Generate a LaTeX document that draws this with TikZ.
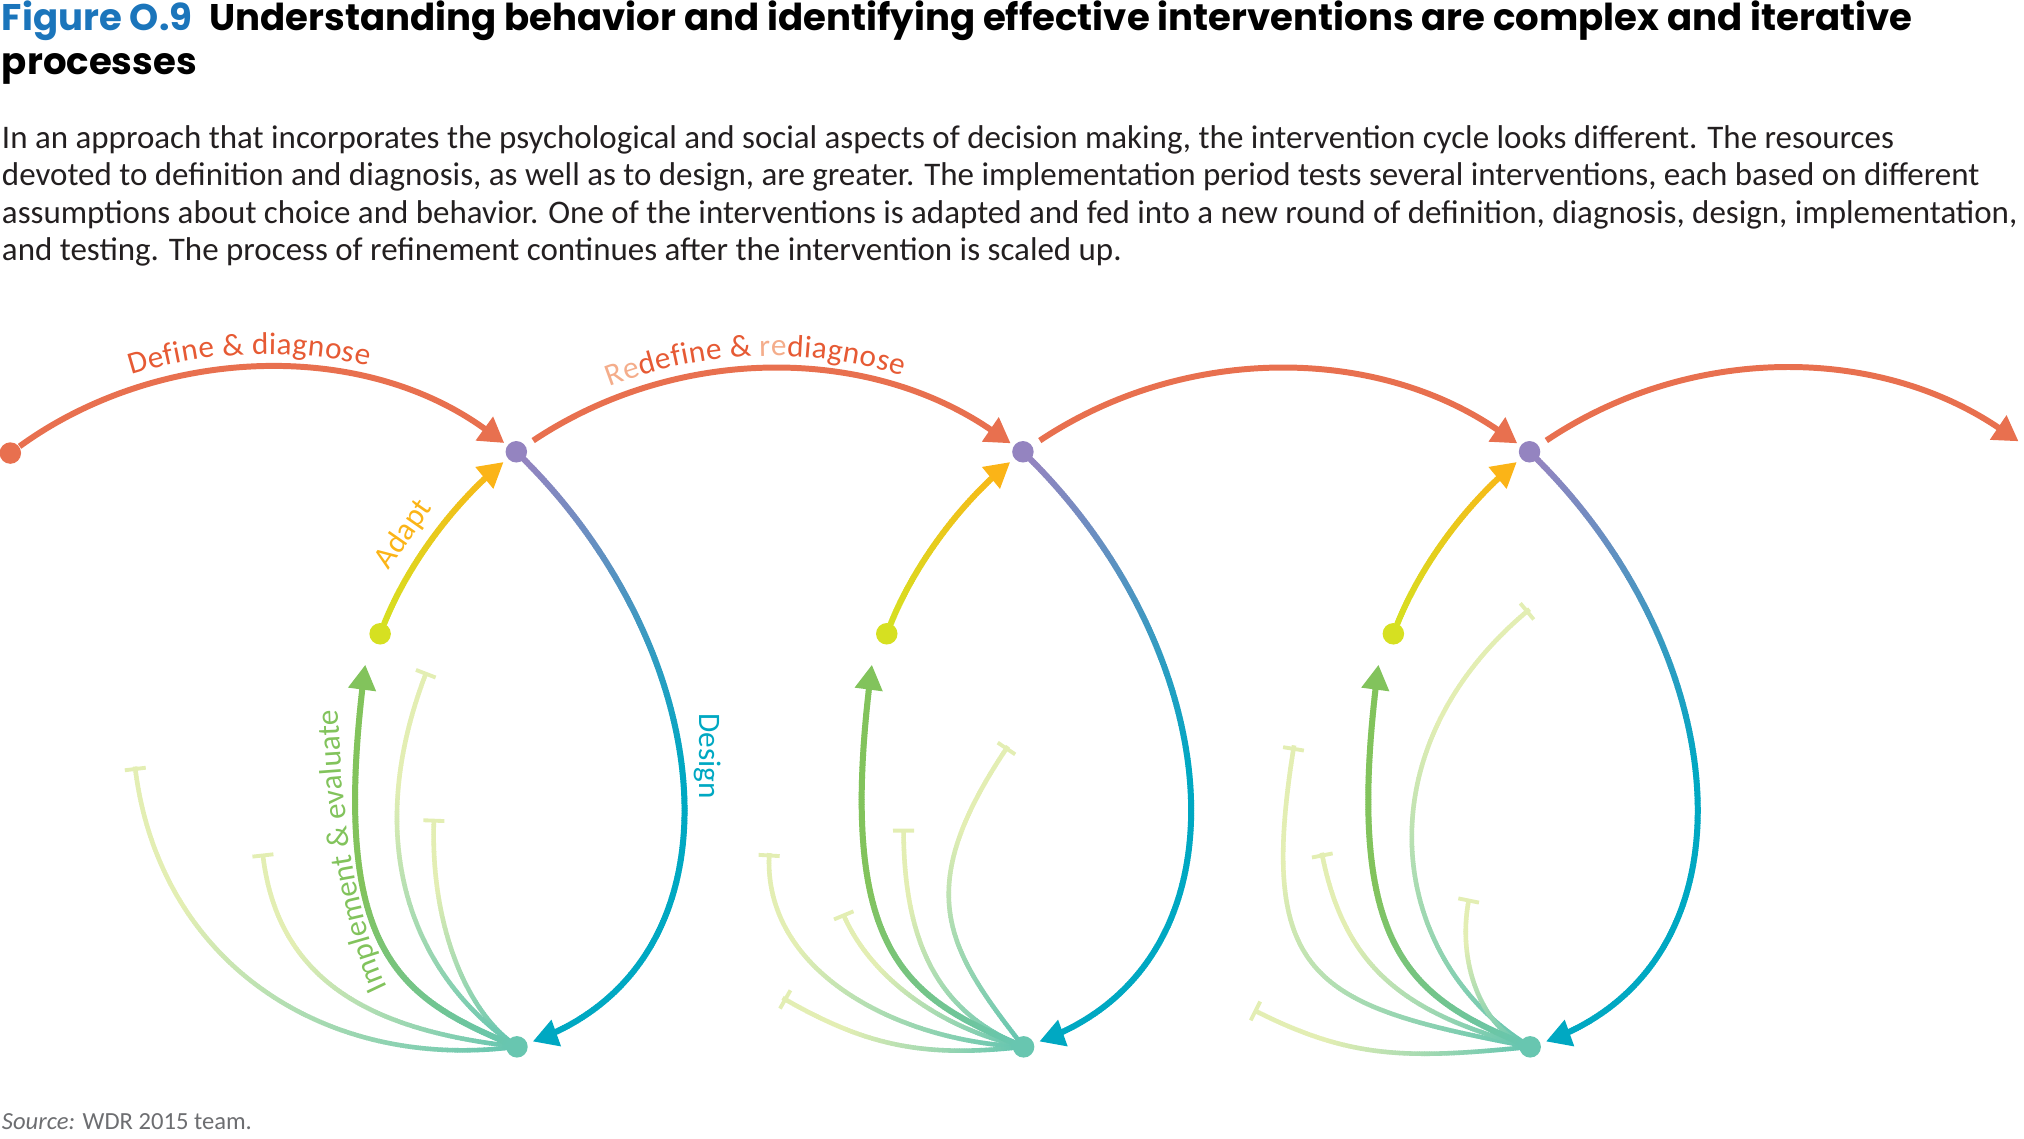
\documentclass[tikz,border=0pt]{standalone}
\usepackage{fontspec}
\setmainfont{Carlito}
\newfontfamily\titlefont{Poppins}
\usepackage{xcolor}
\usetikzlibrary{arrows.meta}
\usetikzlibrary{decorations.markings}
\usetikzlibrary{decorations.text}

\definecolor{redarcc}{HTML}{E8704F}
\definecolor{redtxt}{HTML}{E65A34}
\definecolor{relight}{HTML}{F4AD8B}
\definecolor{purp}{HTML}{9484C0}
\definecolor{cyanc}{HTML}{00A8C2}
\definecolor{tealc}{HTML}{68C6B0}
\definecolor{greenc}{HTML}{82C35C}
\definecolor{palec}{HTML}{E3EEB3}
\definecolor{yelc}{HTML}{D6E021}
\definecolor{orc}{HTML}{FBB417}
\definecolor{figblue}{HTML}{1B75BB}
\definecolor{srcgray}{HTML}{6D6E71}
\definecolor{bodytxt}{HTML}{231F20}

\newcommand\lblfont{\fontsize{8.9}{11}\selectfont}

\tikzset{
  dot/.style={circle, inner sep=0pt, minimum size=0.215cm},
  arcline/.style={draw=redarcc, line width=1.7pt, -{Triangle[length=7pt,width=8pt]}, shorten >=1pt},
  lbl/.style={font=\lblfont, inner sep=0pt},
  grad/.style n args={5}{postaction={decorate, decoration={markings,
      mark=between positions 0 and #5 step 0.7pt with {
        \pgfmathsetmacro\gradpc{min(100,#4*(\pgfkeysvalueof{/pgf/decoration/mark info/distance from start}/\pgfdecoratedpathlength))}
        \fill[#2!\gradpc!#1] (-0.45pt,-#3) rectangle (0.45pt,#3);}}}},
  tipat/.style n args={2}{postaction={decorate, decoration={markings,
      mark=at position #1 with {\arrow{Triangle[length=7pt,width=8pt,color=#2]}}}}},
  barat/.style={postaction={decorate, decoration={markings,
      mark=at position -0.1pt with {\arrow{Bar[width=6pt,line width=1.1pt,color=palec]}}}}}
}

\begin{document}
\begin{tikzpicture}[x=0.012908cm, y=-0.012908cm]
\useasboundingbox (0,0) rectangle (1568,882);

% heading
{
\node[anchor=base west, inner sep=0pt, align=left, font=\titlefont\bfseries\fontsize{10.55}{12.8}\selectfont] (title) at (1,58.1)
{\textcolor{figblue}{Figure O.9}\hspace{0.25em} Understanding behavior and identifying effective interventions are complex and iterative\\processes};

\node[anchor=base west, inner sep=0pt, align=left, text=bodytxt, font=\fontsize{9.38}{10.55}\selectfont] (body) at (1,201.5)
{In an approach that incorporates the psychological and social aspects of decision making, the intervention cycle looks different. The resources\\
devoted to definition and diagnosis, as well as to design, are greater. The implementation period tests several interventions, each based on different\\
assumptions about choice and behavior. One of the interventions is adapted and fed into a new round of definition, diagnosis, design, implementation,\\
and testing. The process of refinement continues after the intervention is scaled up.};
}

% first round
\begin{scope}[xshift=0cm]
{
\node[dot, fill=purp] (p1) at (400,350) {};
\node[dot, fill=yelc] (y1) at (294.5,491) {};
\node[dot, fill=tealc] (t1) at (400.5,811) {};

\coordinate (g1) at (283,515);
\coordinate (a1) at (104.6,594);
\coordinate (a2) at (203.5,661);
\coordinate (a3) at (336.2,634);
\coordinate (a4) at (330.5,520.3);

% trials
{
\path[grad={tealc}{palec}{0.65pt}{140}{-0.1pt}, barat] (t1) .. controls (248,827) and (122.6,744) .. (a1);
\path[grad={tealc}{palec}{0.65pt}{140}{-0.1pt}, barat] (t1) .. controls (289,797) and (214.5,761) .. (a2);
\path[grad={tealc}{palec}{0.65pt}{140}{-0.1pt}, barat] (t1) .. controls (360,778.5) and (333,714) .. (a3);
\path[grad={tealc}{palec}{0.65pt}{140}{-0.1pt}, barat] (t1) .. controls (326,757) and (276.5,659.8) .. (a4);
}

% cycle
{
\path[grad={tealc}{greenc}{0.85pt}{200}{-4pt}, tipat={-0.1pt}{greenc}] (t1) .. controls (306,771) and (254.4,732.8) .. (g1);
\path[grad={purp}{cyanc}{0.85pt}{200}{-6pt}, tipat={-1.6pt}{cyanc}] (p1) .. controls (560,510) and (582,750) .. (t1);
\path[grad={yelc}{orc}{0.85pt}{100}{-5.5pt}, tipat={-1.5pt}{orc}] (y1) .. controls (315,440) and (350,390) .. (p1);
}

% labellings
{
\node[lbl, text=cyanc, rotate=-90] (design) at (548,586) {Design};
\node[lbl, text=orc, rotate=55] (adapt) at (313,414) {Adapt};
\path[decorate, decoration={text along path, text align={left indent=0.1cm},
  text={|\lblfont\color{greenc}|Implement {\&} evaluate}}]
  (304,772) .. controls (282,735) and (262,640) .. (262,530);
}
}
\end{scope}

% second round
\begin{scope}[xshift=5.0664cm]
{
\node[dot, fill=purp] (p2) at (400,350) {};
\node[dot, fill=yelc] (y2) at (294.5,491) {};
\node[dot, fill=tealc] (t2) at (400.5,811) {};

\coordinate (g2) at (283,515);
\coordinate (b1) at (203.5,661);
\coordinate (b2) at (260.5,707.5);
\coordinate (b3) at (307.5,641.7);
\coordinate (b4) at (388.2,578.4);
\coordinate (b5) at (214.3,773.4);

% trials
{
\path[grad={tealc}{palec}{0.65pt}{140}{-0.1pt}, barat] (t2) .. controls (298.5,804) and (198.1,751) .. (b1);
\path[grad={tealc}{palec}{0.65pt}{140}{-0.1pt}, barat] (t2) .. controls (330.5,793.5) and (279.5,753.5) .. (b2);
\path[grad={tealc}{palec}{0.65pt}{140}{-0.1pt}, barat] (t2) .. controls (335.5,781.6) and (307.5,731.7) .. (b3);
\path[grad={tealc}{palec}{0.65pt}{140}{-0.1pt}, barat] (t2) .. controls (338.5,731) and (315.5,686.3) .. (b4);
\path[grad={tealc}{palec}{0.65pt}{140}{-0.1pt}, barat] (t2) .. controls (318.5,819) and (275.2,808.4) .. (b5);
}

% cycle
{
\path[grad={tealc}{greenc}{0.85pt}{200}{-4pt}, tipat={-0.1pt}{greenc}] (t2) .. controls (306,771) and (254.4,732.8) .. (g2);
\path[grad={purp}{cyanc}{0.85pt}{200}{-6pt}, tipat={-1.6pt}{cyanc}] (p2) .. controls (560,510) and (582,750) .. (t2);
\path[grad={yelc}{orc}{0.85pt}{100}{-5.5pt}, tipat={-1.5pt}{orc}] (y2) .. controls (315,440) and (350,390) .. (p2);
}
}
\end{scope}

% third round
\begin{scope}[xshift=10.1328cm]
{
\node[dot, fill=purp] (p3) at (400,350) {};
\node[dot, fill=yelc] (y3) at (294.5,491) {};
\node[dot, fill=tealc] (t3) at (400.5,811) {};

\coordinate (g3) at (283,515);
\coordinate (c1) at (217.4,578.4);
\coordinate (c2) at (239.1,661);
\coordinate (c3) at (399.4,472.5);
\coordinate (c4) at (353.2,695.9);
\coordinate (c5) at (186.1,782.4);

% trials
{
\path[grad={tealc}{palec}{0.65pt}{140}{-0.1pt}, barat] (t3) .. controls (232.4,778.7) and (188.6,756.6) .. (c1);
\path[grad={tealc}{palec}{0.65pt}{140}{-0.1pt}, barat] (t3) .. controls (303,784) and (256.2,749.2) .. (c2);
\path[grad={tealc}{palec}{0.65pt}{140}{-0.1pt}, barat] (t3) .. controls (291,738.2) and (268.5,581.3) .. (c3);
\path[grad={tealc}{palec}{0.65pt}{140}{-0.1pt}, barat] (t3) .. controls (363,793.4) and (343.2,744.9) .. (c4);
\path[grad={tealc}{palec}{0.65pt}{140}{-0.1pt}, barat] (t3) .. controls (299,821) and (257.3,818.4) .. (c5);
}

% cycle
{
\path[grad={tealc}{greenc}{0.85pt}{200}{-4pt}, tipat={-0.1pt}{greenc}] (t3) .. controls (306,771) and (254.4,732.8) .. (g3);
\path[grad={purp}{cyanc}{0.85pt}{200}{-6pt}, tipat={-1.6pt}{cyanc}] (p3) .. controls (560,510) and (582,750) .. (t3);
\path[grad={yelc}{orc}{0.85pt}{100}{-5.5pt}, tipat={-1.5pt}{orc}] (y3) .. controls (315,440) and (350,390) .. (p3);
}
}
\end{scope}

% define and diagnose arcs
{
\node[dot, fill=redarcc] (s0) at (8,351) {};
\coordinate (arcend) at (1566,343.4);

\draw[arcline, postaction={decorate, decoration={text along path, raise=4pt, text align={left indent=1.3cm},
  text={|\lblfont\color{redtxt}|Define {\&} diagnose}}}]
  (s0) .. controls (120.9,269) and (278.1,261.5) .. (p1);
\draw[arcline, shorten <=2.5pt, postaction={decorate, decoration={text along path, raise=4pt, text align={left indent=1.0cm},
  text={|\lblfont\color{relight}|Re|\lblfont\color{redtxt}|define {\&} |\lblfont\color{relight}|re|\lblfont\color{redtxt}|diagnose}}}]
  (p1) .. controls (524.7,267) and (672.3,267.5) .. (p2);
\draw[arcline, shorten <=2.5pt] (p2) .. controls (917.2,267) and (1064.8,267.5) .. (p3);
\draw[arcline, shorten <=2.5pt] (p3) .. controls (1308.7,267) and (1453.3,267) .. (arcend);
}

\node[anchor=base west, inner sep=0pt, text=srcgray, font=\fontsize{7}{8.4}\selectfont] (source) at (1,875.4)
{\textit{Source:} WDR 2015 team.};

\end{tikzpicture}
\end{document}
